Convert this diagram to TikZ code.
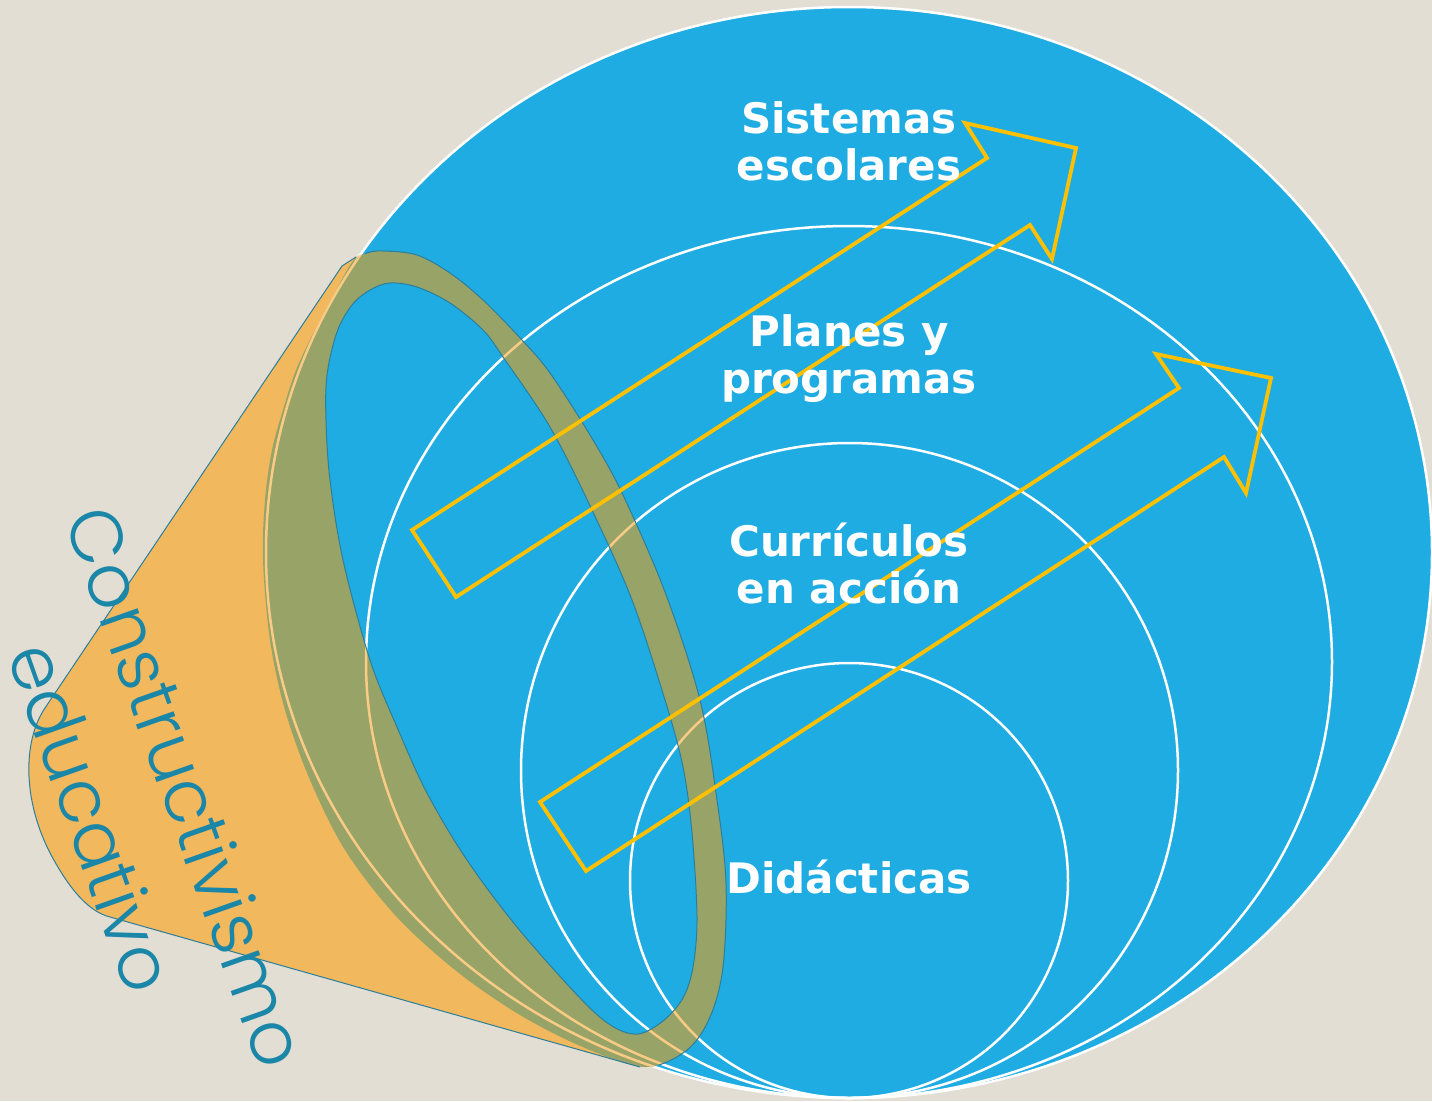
\documentclass[tikz,border=0pt]{standalone}
\usepackage{fontspec}
\setmainfont{DejaVu Sans}
\newfontfamily\gothicfont{Poppins Light}
\definecolor{bgc}{HTML}{E3DED3}
\definecolor{bluec}{HTML}{1EACE3}
\definecolor{orangec}{HTML}{F1B85E}
\definecolor{olivec}{HTML}{98A367}
\definecolor{palec}{HTML}{FACB85}
\definecolor{arrowc}{HTML}{FFC000}
\definecolor{tealc}{HTML}{2B7F9C}
\definecolor{textteal}{HTML}{1A86A8}
\newcommand\elllist{849/552.5/583/545.5,849/662/483/436,849.5/770.5/328.5/327.5,849/880.5/219/217.5}
\begin{document}
\begin{tikzpicture}[x=1pt,y=-1pt,
  whiteline/.style={draw=white,line width=2.5pt},
  paleline/.style={draw=palec,line width=2.5pt},
  edgeline/.style={draw=tealc,line width=1pt},
  arrowbox/.style={draw=arrowc,line width=3.8pt,line join=miter},
  circlabel/.style={text=white,font=\fontsize{42}{47}\selectfont\bfseries,anchor=base,inner sep=0pt},
  conelabel/.style={text=textteal,font=\gothicfont\fontsize{73}{80}\selectfont,anchor=base,rotate=-70.5,inner sep=0pt}]
\useasboundingbox (0,0) rectangle (1432,1101);
\fill[bgc] (0,0) rectangle (1432,1101);
% nested circles
\fill[bluec] (849,552.5) ellipse [x radius=583, y radius=545.5];
\foreach \cx/\cy/\rx/\ry in \elllist {\draw[whiteline] (\cx,\cy) ellipse [x radius=\rx, y radius=\ry];}
% cone
\path[save path=\conepath] (356,257) -- (342,266) -- (45,708)
  .. controls (22,742) and (22,805) .. (55,862)
  .. controls (72,892) and (90,912) .. (110,917) -- (640,1067) -- (640,1058)
  -- plot[smooth] coordinates {(600,1032) (533,993) (461,927) (408,860) (371,793) (343,727) (321,660) (303,560) (297,480) (303,420) (311,375) (326,331) (341,303) (360,272)} -- cycle;
\begin{scope}
  \clip[use path=\conepath];
  \fill[orangec] (0,0) rectangle (1432,1101);
  \foreach \cx/\cy/\rx/\ry in \elllist {\draw[paleline] (\cx,\cy) ellipse [x radius=\rx, y radius=\ry];}
\end{scope}
% ring
\path[save path=\ringpath]
  plot[smooth cycle, tension=0.55] coordinates {(383,251) (417,255) (450,273) (483,300) (522,340) (550,373) (590,435) (622,493) (665,592) (700,700) (717,800) (726,883) (723,967) (710,1017) (687,1050) (645,1067) (585,1048) (520,1015) (455,970) (395,915) (345,850) (310,780) (285,710) (270,640) (263,560) (265,500) (272,450) (283,410) (296,370) (315,330) (333,296) (353,261) (367,253)}
  plot[smooth cycle, tension=0.55] coordinates {(390,283) (417,287) (450,303) (483,330) (503,357) (550,427) (592,510) (632,600) (665,700) (683,767) (692,833) (697,917) (693,967) (683,998) (663,1021) (638,1034) (612,1026) (580,998) (517,927) (467,860) (427,793) (397,727) (370,660) (343,560) (330,480) (326,420) (327,375) (337,332) (352,305) (370,290)};
\begin{scope}[even odd rule]
  \clip[use path=\ringpath];
  \fill[olivec] (0,0) rectangle (1432,1101);
  \foreach \cx/\cy/\rx/\ry in \elllist {\draw[paleline] (\cx,\cy) ellipse [x radius=\rx, y radius=\ry];}
\end{scope}
\begin{scope}
  \clip (849,552.5) ellipse [x radius=580, y radius=542];
  \draw[edgeline, use path=\ringpath];
\end{scope}
\draw[edgeline] (356,257) -- (342,266) -- (45,708)
  .. controls (22,742) and (22,805) .. (55,862)
  .. controls (72,892) and (90,912) .. (110,917) -- (640,1067);
% arrows
\draw[arrowbox] (412,530) -- (987,158) -- (965,123) -- (1076,148) -- (1052,259) -- (1030,225) -- (456,597) -- cycle;
\draw[arrowbox] (540,802) -- (1179,388) -- (1156,354) -- (1271,378) -- (1246,493) -- (1224,457) -- (586,871) -- cycle;
% labels
\node[circlabel] (sis1) at (849,133) {Sistemas};
\node[circlabel] (sis2) at (849,180) {escolares};
\node[circlabel] (pla1) at (849,346) {Planes y};
\node[circlabel] (pla2) at (849,393) {programas};
\node[circlabel] (cur1) at (849,556) {Currículos};
\node[circlabel] (cur2) at (849,603) {en acción};
\node[circlabel] (did) at (849,893) {Didácticas};
\node[conelabel] (constr) at (162,796) {Constructivismo};
\node[conelabel] (educ) at (67,826) {educativo};
\end{tikzpicture}
\end{document}
